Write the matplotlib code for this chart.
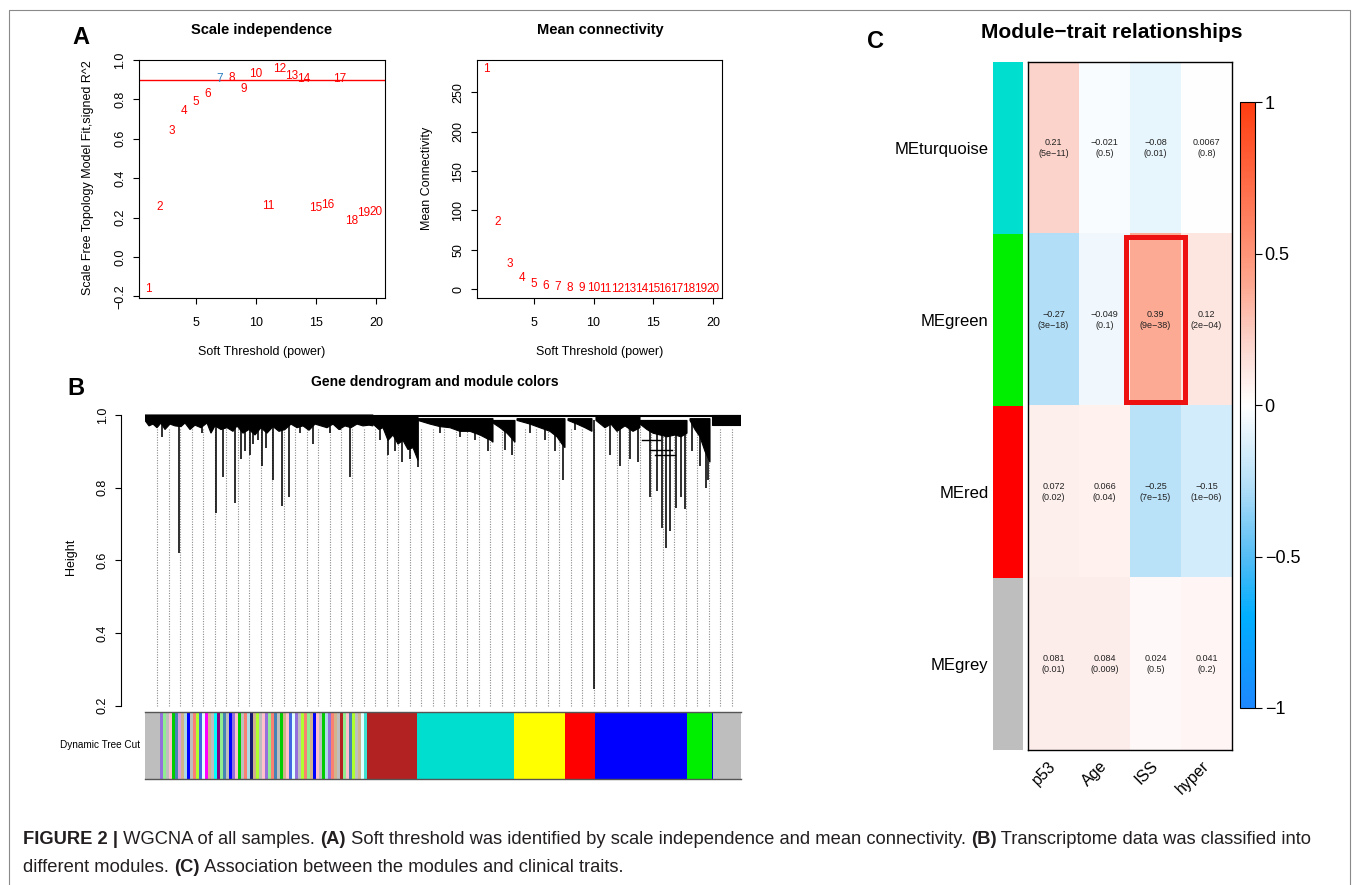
import numpy as np
import matplotlib
matplotlib.use("Agg")
import matplotlib.pyplot as plt
from matplotlib.colors import LinearSegmentedColormap, Normalize
from matplotlib.patches import Rectangle, Polygon
from matplotlib.cm import ScalarMappable
from matplotlib.lines import Line2D

plt.rcParams['font.family'] = ['Liberation Sans', 'DejaVu Sans']
plt.rcParams['axes.unicode_minus'] = True

W, H = 1355, 885

# ---------------- Panel A data ----------------
powers = list(range(1, 21))
sft_r2 = [-0.163, 0.256, 0.640, 0.741, 0.789, 0.829, 0.904, 0.907, 0.851, 0.927,
          0.261, 0.954, 0.919, 0.902, 0.248, 0.263, 0.904, 0.183, 0.224, 0.227]
mean_k = [279.7, 85.2, 31.8, 14.0, 6.8, 4.5, 3.0, 2.2, 1.6, 1.2,
          0.9, 0.7, 0.55, 0.45, 0.37, 0.30, 0.26, 0.22, 0.19, 0.16]
r2_cutoff = 0.90
chosen_power = 7

# ---------------- Panel B data ----------------
# module colour blocks in dendrogram leaf order
lead_grey_size = 15
small_module_colors = [
    "mediumpurple", "lightgreen", "#BEBEBE", "pink", "#00CD00", "steelblue", "plum", "tan",
    "lightblue", "blue", "#BEBEBE", "salmon", "greenyellow", "royalblue", "lightcyan", "magenta",
    "tan", "#BEBEBE", "cyan", "purple", "lightgreen", "steelblue", "#BEBEBE", "blue",
    "mediumpurple", "pink", "#00CD00", "#BEBEBE", "salmon", "lightblue", "midnightblue", "tan",
    "greenyellow", "#BEBEBE", "pink", "mediumpurple", "lightgreen", "salmon", "steelblue", "#BEBEBE",
    "#00CD00", "tan", "pink", "royalblue", "lightcyan", "mediumpurple", "#BEBEBE", "greenyellow",
    "salmon", "lightgreen", "tan", "blue", "pink", "#BEBEBE", "#00CD00", "lightblue",
    "mediumpurple", "salmon", "tan", "#BEBEBE", "firebrick", "lightgreen", "pink", "steelblue",
    "greenyellow", "#BEBEBE", "tan", "lightcyan", "turquoise"]
small_module_size = 3
big_module_colors = ["#B22222", "#00DED0", "#FFFF00", "#FF0000", "#0000FF", "#00EE00", "#0000FF", "#BEBEBE"]
big_module_sizes = [50, 97, 51, 30, 92, 25, 1, 28]

# dense sub-trees: top merge height and the lower envelope (leaf position, height)
bush_top = [1.0, 0.995, 0.99, 0.985, 0.99, 0.99, 0.995, 0.985, 0.99, 1.0]
bush_x = [
    [0, 4, 8, 12, 16, 20, 25, 30, 36, 40, 45, 50, 56, 62, 66, 70, 76, 82, 88, 92, 98, 104, 110,
     116, 122, 128, 134, 140, 146, 152, 158, 164, 170, 176, 182, 188, 194, 200, 206, 212, 218, 224, 228],
    [228, 234, 238, 243, 248, 253, 258, 263, 268, 273],
    [273, 285, 295, 305, 315, 325, 335, 342, 346, 348],
    [348, 355, 362, 367, 370],
    [372, 385, 395, 405, 412, 417, 420],
    [423, 432, 440, 447],
    [451, 460, 466, 472, 480, 488, 495],
    [495, 502, 508, 515, 522, 530, 536, 542],
    [545, 550, 555, 560, 565],
    [567, 596]]
bush_h = [
    [0.985, 0.97, 0.975, 0.965, 0.978, 0.96, 0.975, 0.97, 0.968, 0.978, 0.96, 0.972, 0.965, 0.978,
     0.95, 0.97, 0.96, 0.965, 0.955, 0.97, 0.95, 0.96, 0.945, 0.965, 0.95, 0.968, 0.955, 0.96, 0.975,
     0.965, 0.97, 0.958, 0.975, 0.97, 0.965, 0.975, 0.96, 0.97, 0.965, 0.975, 0.97, 0.972, 0.97],
    [0.975, 0.96, 0.965, 0.93, 0.945, 0.92, 0.93, 0.905, 0.91, 0.875],
    [0.985, 0.975, 0.968, 0.965, 0.955, 0.955, 0.945, 0.935, 0.93, 0.925],
    [0.978, 0.965, 0.95, 0.935, 0.925],
    [0.985, 0.975, 0.965, 0.955, 0.94, 0.92, 0.91],
    [0.985, 0.975, 0.965, 0.955],
    [0.985, 0.965, 0.975, 0.955, 0.97, 0.955, 0.965],
    [0.975, 0.96, 0.95, 0.945, 0.94, 0.945, 0.94, 0.95],
    [0.985, 0.96, 0.94, 0.90, 0.87],
    [0.972, 0.972]]

# individual branches: leaf position and merge height
branch_leaf = [17, 34, 57, 71, 78, 90, 96, 100, 105, 108, 113, 117, 121, 128, 137, 144,
               155, 168, 185, 195, 205, 235, 243, 250, 257, 265, 273, 295, 315, 330, 343,
               360, 367, 385, 400, 410, 418, 430, 449, 465, 475, 485, 493, 505, 512, 517,
               521, 525, 531, 536, 540, 547, 555, 561, 563]
branch_height = [0.94, 0.62, 0.95, 0.73, 0.83, 0.758, 0.88, 0.90, 0.89, 0.92, 0.93, 0.86, 0.91,
                 0.82, 0.75, 0.775, 0.95, 0.92, 0.95, 0.96, 0.83, 0.93, 0.89, 0.90, 0.87, 0.88,
                 0.857, 0.95, 0.94, 0.93, 0.90, 0.905, 0.89, 0.95, 0.93, 0.90, 0.82, 0.96, 0.246,
                 0.89, 0.86, 0.88, 0.87, 0.775, 0.79, 0.69, 0.634, 0.68, 0.745, 0.775, 0.74,
                 0.90, 0.86, 0.80, 0.82]
merge_left = [497, 505, 510]
merge_right = [515, 527, 530]
merge_height = [0.93, 0.905, 0.89]

# ---------------- Panel C data ----------------
modules = ["MEturquoise", "MEgreen", "MEred", "MEgrey"]
module_colors = ["#00DED0", "#00EE00", "#FF0000", "#BEBEBE"]
traits = ["p53", "Age", "ISS", "hyper"]
cor = [[0.21, -0.021, -0.08, 0.0067],
       [-0.27, -0.049, 0.39, 0.12],
       [0.072, 0.066, -0.25, -0.15],
       [0.081, 0.084, 0.024, 0.041]]
cor_labels = [["0.21", "\u22120.021", "\u22120.08", "0.0067"],
              ["\u22120.27", "\u22120.049", "0.39", "0.12"],
              ["0.072", "0.066", "\u22120.25", "\u22120.15"],
              ["0.081", "0.084", "0.024", "0.041"]]
pvals = [["5e\u221211", "0.5", "0.01", "0.8"],
         ["3e\u221218", "0.1", "9e\u221238", "2e\u221204"],
         ["0.02", "0.04", "7e\u221215", "1e\u221206"],
         ["0.01", "0.009", "0.5", "0.2"]]
highlight_row, highlight_col = 1, 2
cbar_ticks = [-1, -0.5, 0, 0.5, 1]
cbar_ticklabels = ["\u22121", "\u22120.5", "0", "0.5", "1"]

caption_line1 = [("FIGURE 2 |", "bold"), (" WGCNA of all samples. ", "normal"), ("(A)", "bold"),
                 (" Soft threshold was identified by scale independence and mean connectivity. ", "normal"),
                 ("(B)", "bold"), (" Transcriptome data was classified into", "normal")]
caption_line2 = [("different modules. ", "normal"), ("(C)", "bold"),
                 (" Association between the modules and clinical traits.", "normal")]

# ---------------- helpers ----------------
fig = plt.figure(figsize=(W / 100, H / 100), dpi=100)


def px_rect(x0, y0, x1, y1):
    return [x0 / W, 1 - y1 / H, (x1 - x0) / W, (y1 - y0) / H]


def ftext(x, y, s, **kw):
    return fig.text(x / W, 1 - y / H, s, **kw)


def style_r_axes(ax):
    for sp in ax.spines.values():
        sp.set_linewidth(0.8)
    ax.tick_params(direction='out', length=4, width=0.8, labelsize=9)
    ax.tick_params(axis='x', pad=10)
    ax.tick_params(axis='y', pad=5, labelrotation=90)
    for lab in ax.get_yticklabels():
        lab.set_va('center')


# ---------------- Panel A: scale independence ----------------
ax1 = fig.add_axes(px_rect(139, 60, 385, 298))
ax1.set_xlim(0.24, 20.76)
ax1.set_ylim(-0.208, 0.999)
for p, v in zip(powers, sft_r2):
    ax1.text(p, v, str(p), color=('#2F7FC1' if p == chosen_power else 'red'),
             fontsize=8.5, ha='center', va='center')
ax1.axhline(r2_cutoff, color='red', lw=1)
ax1.set_xticks([5, 10, 15, 20])
ax1.set_yticks([-0.2, 0.0, 0.2, 0.4, 0.6, 0.8, 1.0])
ax1.set_yticklabels(["\u22120.2", "0.0", "0.2", "0.4", "0.6", "0.8", "1.0"])
style_r_axes(ax1)
ftext(262, 30, "Scale independence", fontsize=10.5, fontweight='bold', ha='center', va='center')
ftext(262, 352, "Soft Threshold (power)", fontsize=9, ha='center', va='center')
ftext(88, 178, "Scale Free Topology Model Fit,signed R^2", fontsize=9, ha='center', va='center',
      rotation=90)

# ---------------- Panel A: mean connectivity ----------------
ax2 = fig.add_axes(px_rect(477, 60, 722, 298))
ax2.set_xlim(0.24, 20.76)
ax2.set_ylim(-11.0, 290.9)
for p, v in zip(powers, mean_k):
    ax2.text(p, v, str(p), color='red', fontsize=8.5, ha='center', va='center')
ax2.set_xticks([5, 10, 15, 20])
ax2.set_yticks([0, 50, 100, 150, 200, 250])
style_r_axes(ax2)
ftext(600, 30, "Mean connectivity", fontsize=10.5, fontweight='bold', ha='center', va='center')
ftext(600, 352, "Soft Threshold (power)", fontsize=9, ha='center', va='center')
ftext(427, 178, "Mean Connectivity", fontsize=9, ha='center', va='center', rotation=90)

# ---------------- Panel B: dendrogram ----------------
n_leaves = lead_grey_size + len(small_module_colors) * small_module_size + sum(big_module_sizes)
k = (705.7 - 415) / 0.8
axd = fig.add_axes(px_rect(145, 410, 741, 710))
axd.set_xlim(0, n_leaves)
axd.set_ylim(0.2 - (710 - 705.7) / k, 1.0 + (415 - 410) / k)
for s in ['top', 'right', 'bottom']:
    axd.spines[s].set_visible(False)
axd.spines['left'].set_position(('outward', 17))
axd.spines['left'].set_bounds(0.2, 1.0)
axd.spines['left'].set_linewidth(0.8)
axd.set_xticks([])
axd.set_yticks([0.2, 0.4, 0.6, 0.8, 1.0])
axd.set_yticklabels(["0.2", "0.4", "0.6", "0.8", "1.0"])
axd.tick_params(axis='y', direction='out', length=4, width=0.8, labelsize=9, pad=5, labelrotation=90)
for lab in axd.get_yticklabels():
    lab.set_va('center')

# leaf guide lines (decoration)
for gx in np.arange(12, n_leaves - 3, 11.5):
    axd.plot([gx, gx], [0.2, 0.965], color='#8C8C8C', lw=0.8, ls=(0, (1, 1.3)), zorder=0)

axd.plot([0, n_leaves], [0.998, 0.998], color='black', lw=1.5, zorder=3, solid_capstyle='butt')
for t, bx, bh in zip(bush_top, bush_x, bush_h):
    pts = [(bx[0], t)] + [(bx[-1], t)] + list(zip(bx[::-1], bh[::-1]))
    axd.add_patch(Polygon(pts, closed=True, facecolor='black', edgecolor='black', lw=0.8, zorder=3))
for bx, bh in zip(branch_leaf, branch_height):
    axd.plot([bx, bx], [bh, 0.985], color='black', lw=1.15, zorder=3, solid_capstyle='butt')
for ml, mr, mh in zip(merge_left, merge_right, merge_height):
    axd.plot([ml, mr], [mh, mh], color='black', lw=1.0, zorder=3)

ftext(435, 382, "Gene dendrogram and module colors", fontsize=10, fontweight='bold',
      ha='center', va='center')
ftext(71, 557, "Height", fontsize=9, ha='center', va='center', rotation=90)

# module colour bar
axc = fig.add_axes(px_rect(145, 712, 741, 779))
axc.set_xlim(0, n_leaves)
axc.set_ylim(0, 1)
pos = 0
axc.add_patch(Rectangle((pos, 0), lead_grey_size, 1, facecolor='#BEBEBE', edgecolor='none'))
pos += lead_grey_size
for c in small_module_colors:
    axc.add_patch(Rectangle((pos, 0), small_module_size, 1, facecolor=c, edgecolor='none'))
    pos += small_module_size
for c, s in zip(big_module_colors, big_module_sizes):
    axc.add_patch(Rectangle((pos, 0), s, 1, facecolor=c, edgecolor='none'))
    pos += s
axc.set_xticks([])
axc.set_yticks([])
for s in ['left', 'right']:
    axc.spines[s].set_visible(False)
for s in ['top', 'bottom']:
    axc.spines[s].set_color('#555555')
    axc.spines[s].set_linewidth(1.0)
ftext(140, 745, "Dynamic Tree Cut", fontsize=7.2, ha='right', va='center')

# ---------------- Panel C: module-trait heatmap ----------------
stops = [(-1, "#1E88FF"), (-0.7, "#00AEFF"), (-0.5, "#55BDF5"), (-0.27, "#B3DFF8"),
         (0, "#FFFFFF"), (0.21, "#FCD3CB"), (0.39, "#FDAA93"), (0.5, "#FF9478"), (1, "#FF3D10")]
cmap = LinearSegmentedColormap.from_list("bwr_wgcna", [((v + 1) / 2, c) for v, c in stops])
norm = Normalize(-1, 1)

axh = fig.add_axes(px_rect(1028, 62, 1232, 750))
axh.imshow(np.array(cor), cmap=cmap, norm=norm, aspect='auto', interpolation='nearest',
           extent=(0, len(traits), len(modules), 0))
for i in range(len(modules)):
    for j in range(len(traits)):
        axh.text(j + 0.5, i + 0.5, f"{cor_labels[i][j]}\n({pvals[i][j]})", ha='center', va='center',
                 fontsize=6.5, linespacing=1.4, color='#222222')
axh.add_patch(Rectangle((highlight_col - 0.085, highlight_row + 0.015), 1.17, 0.96, fill=False,
                        edgecolor='#EE1111', lw=3.6, clip_on=False, zorder=5))
axh.set_xticks([j + 0.5 for j in range(len(traits))])
axh.set_xticklabels(traits, rotation=45, ha='right', va='center', rotation_mode='anchor', fontsize=11.5)
axh.tick_params(axis='x', length=0, pad=10)
axh.set_yticks([])
for sp in axh.spines.values():
    sp.set_linewidth(1.0)

axs = fig.add_axes(px_rect(992.7, 62, 1023, 750))
for i, c in enumerate(module_colors):
    axs.add_patch(Rectangle((0, i), 1, 1, facecolor=c, edgecolor='none'))
axs.set_xlim(0, 1)
axs.set_ylim(len(modules), 0)
axs.set_xticks([])
axs.set_yticks([i + 0.5 for i in range(len(modules))])
axs.set_yticklabels(modules, fontsize=12)
axs.tick_params(axis='y', length=0, pad=3)
for sp in axs.spines.values():
    sp.set_visible(False)

cax = fig.add_axes(px_rect(1240, 102, 1255, 708))
cb = fig.colorbar(ScalarMappable(norm=norm, cmap=cmap), cax=cax, ticks=cbar_ticks)
cb.set_ticklabels(cbar_ticklabels)
cb.outline.set_linewidth(0.8)
cax.tick_params(length=5, width=0.8, labelsize=13, pad=2)

ftext(1112, 33, "Module\u2212trait relationships", fontsize=15, fontweight='bold', ha='center', va='center')

# panel letters
ftext(81, 37, "A", fontsize=17, fontweight='bold', ha='center', va='center')
ftext(76, 388, "B", fontsize=17, fontweight='bold', ha='center', va='center')
ftext(876, 41, "C", fontsize=17, fontweight='bold', ha='center', va='center')

# outer frame
fig.add_artist(Line2D([9 / W, 9 / W, 1350 / W, 1350 / W], [0, 1 - 10 / H, 1 - 10 / H, 0],
                      color='#8A8A8A', lw=0.8, transform=fig.transFigure))

# caption
fig.canvas.draw()
renderer = fig.canvas.get_renderer()


def chunk_width(s, weight, size):
    t1 = fig.text(0, 0, "x" + s + "x", fontsize=size, fontweight=weight)
    t2 = fig.text(0, 0, "xx", fontsize=size, fontweight=weight)
    w = t1.get_window_extent(renderer).width - t2.get_window_extent(renderer).width
    t1.remove()
    t2.remove()
    return w


def place_chunks(x, y, chunks, size):
    for s, wt in chunks:
        ftext(x, y, s, fontsize=size, fontweight=wt, ha='left', va='center', color='#231F20')
        x += chunk_width(s, wt, size)
    return x


cap_size = 13.2
end1 = place_chunks(23, 840, caption_line1, cap_size)
place_chunks(23, 867, caption_line2, cap_size)

fig.savefig("out.png", dpi=100)
print("caption line1 end", end1)
